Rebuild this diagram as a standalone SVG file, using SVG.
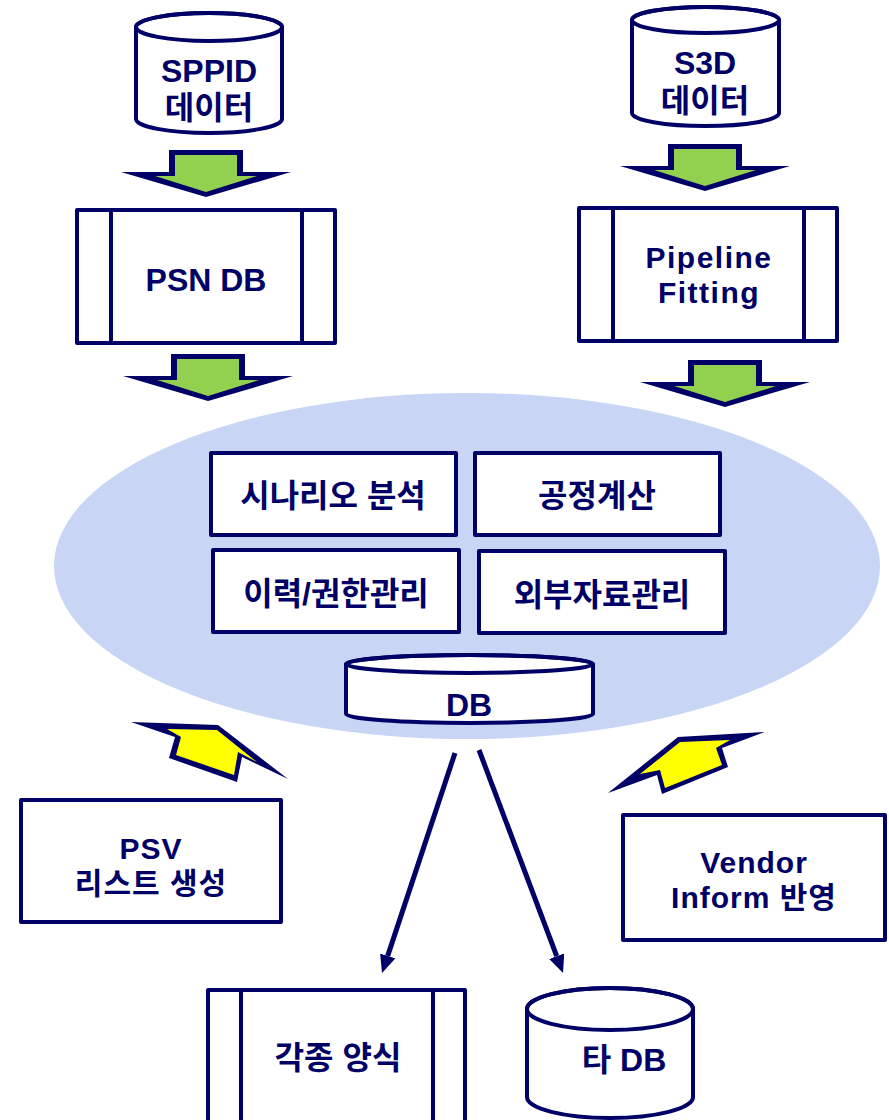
<svg xmlns="http://www.w3.org/2000/svg" xmlns:xlink="http://www.w3.org/1999/xlink" width="889" height="1120" viewBox="0 0 889 1120">
<style>
.ln{stroke:#000066;stroke-width:4;fill:#fff;stroke-linejoin:round}
.nl{stroke:#000066;stroke-width:4;fill:none}
.t{font-family:"Liberation Sans","Noto Sans CJK KR",sans-serif;font-weight:bold;fill:#000066;text-anchor:middle;font-size:32px}
.t2{font-size:30px;letter-spacing:1.5px}
.t3{font-size:30px;letter-spacing:1px}
.nav{fill:#000066}
.grn{fill:#92d050}
.yel{fill:#ffff00}
.con{stroke:#000066;stroke-width:5;fill:none}
</style>
<defs>
<g id="greenArrow">
<polygon class="nav" points="-37,0 37,0 37,22 85,22 0,47 -85,22 -37,22"/>
<polygon class="grn" points="-31,5 31,5 31,26 51,26 0,42 -51,26 -31,26"/>
</g>
<marker id="ah" markerUnits="userSpaceOnUse" markerWidth="18" markerHeight="16" viewBox="0 0 18 16" refX="0" refY="8" orient="auto">
<path d="M0,0 L18,8 L0,16 Z" fill="#000066"/>
</marker>
</defs>
<rect width="889" height="1120" fill="#fff"/>

<g id="platform">
<ellipse cx="467" cy="566" rx="413" ry="173" fill="#c8d5f5"/>
</g>

<g id="sppid">
<path class="ln" d="M136,27 A73,14 0 0,1 282,27 L282,119 A73,14 0 0,1 136,119 Z"/>
<ellipse class="nl" cx="209" cy="27" rx="73" ry="14"/>
<text class="t" x="209" y="82">SPPID</text>
<text class="t" x="209" y="119">데이터</text>
</g>

<g id="s3d">
<path class="ln" d="M632,20 A73.5,13 0 0,1 779,20 L779,113 A73.5,13 0 0,1 632,113 Z"/>
<ellipse class="nl" cx="705.5" cy="20" rx="73.5" ry="13"/>
<text class="t" x="705" y="74">S3D</text>
<text class="t" x="705" y="112">데이터</text>
</g>

<g id="psndb">
<rect class="ln" x="77" y="210" width="258" height="133"/>
<line class="nl" x1="111" y1="210" x2="111" y2="343"/>
<line class="nl" x1="302" y1="210" x2="302" y2="343"/>
<text class="t" x="206" y="291">PSN DB</text>
</g>

<g id="pipeline">
<rect class="ln" x="579" y="208" width="258" height="133"/>
<line class="nl" x1="613" y1="208" x2="613" y2="341"/>
<line class="nl" x1="804" y1="208" x2="804" y2="341"/>
<text class="t t2" x="709" y="268">Pipeline</text>
<text class="t t2" x="709" y="303">Fitting</text>
</g>

<g id="scenario">
<rect class="ln" x="211" y="453" width="245" height="82"/>
<text class="t" x="333" y="507">시나리오 분석</text>
</g>
<g id="process">
<rect class="ln" x="475" y="453" width="245" height="82"/>
<text class="t" x="597" y="507">공정계산</text>
</g>
<g id="history">
<rect class="ln" x="213" y="550" width="246" height="82"/>
<text class="t" x="336" y="605">이력/권한관리</text>
</g>
<g id="external">
<rect class="ln" x="479" y="551" width="246" height="82"/>
<text class="t" x="602" y="606">외부자료관리</text>
</g>

<g id="db">
<path class="ln" d="M346,664 A123.5,9 0 0,1 593,664 L593,714 A123.5,9 0 0,1 346,714 Z"/>
<ellipse class="nl" cx="469.5" cy="664" rx="123.5" ry="9"/>
<text class="t" x="469" y="716">DB</text>
</g>

<g id="psv">
<rect class="ln" x="21" y="800" width="260" height="122"/>
<text class="t t3" x="151" y="859">PSV</text>
<text class="t t3" x="151" y="894">리스트 생성</text>
</g>

<g id="vendor">
<rect class="ln" x="623" y="815" width="262" height="125"/>
<text class="t t3" x="754" y="873">Vendor</text>
<text class="t t3" x="754" y="908">Inform 반영</text>
</g>

<g id="forms">
<rect class="ln" x="208" y="990" width="257" height="140"/>
<line class="nl" x1="241" y1="990" x2="241" y2="1130"/>
<line class="nl" x1="433" y1="990" x2="433" y2="1130"/>
<text class="t" x="338" y="1069">각종 양식</text>
</g>

<g id="otherdb">
<path class="ln" d="M527,1009 A83,21 0 0,1 693,1009 L693,1097 A83,21 0 0,1 527,1097 Z"/>
<ellipse class="nl" cx="610" cy="1009" rx="83" ry="21"/>
<text class="t" x="624" y="1071">타 DB</text>
</g>

<g id="connectors">
<use xlink:href="#greenArrow" transform="translate(206,150)"/>
<use xlink:href="#greenArrow" transform="translate(705,144)"/>
<use xlink:href="#greenArrow" transform="translate(208,354)"/>
<use xlink:href="#greenArrow" transform="translate(725,360)"/>
<polygon class="nav" points="131,722 218,725 288,779 242,757 237,782 169,758 175,737"/>
<polygon class="yel" points="167,729 217,730 257,762 238,752 234,775 176,755 181,737"/>
<polygon class="nav" points="608,793 678,737 765,732 722,748 728,767 662,794 657,775"/>
<polygon class="yel" points="640,774 680,742 730,740 716,748 722,765 665,788 660,770"/>
<line class="con" x1="455" y1="753" x2="387.7" y2="955.9" marker-end="url(#ah)"/>
<line class="con" x1="479" y1="750" x2="556.7" y2="956.2" marker-end="url(#ah)"/>
</g>
</svg>
